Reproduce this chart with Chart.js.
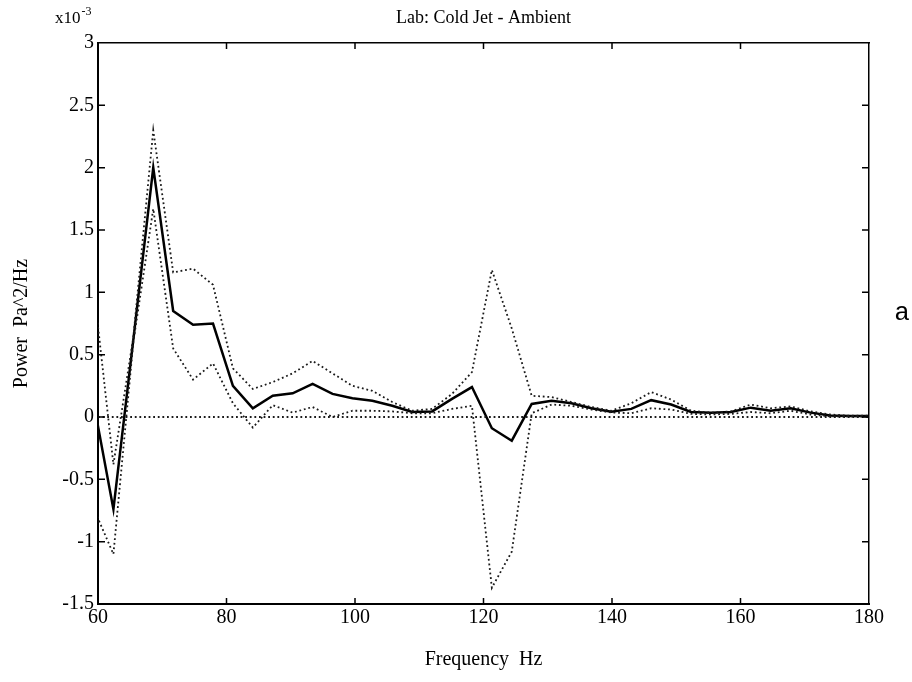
<!DOCTYPE html>
<html><head><meta charset="utf-8">
<script src="https://cdn.jsdelivr.net/npm/chart.js@4.4.0/dist/chart.umd.min.js"></script>
<style>html,body{margin:0;padding:0;background:#fff;}#wrap{width:912px;height:682px;position:relative;}</style>
</head><body><div id="wrap"><canvas id="c" width="912" height="682"></canvas></div>
<script>
// Frequency bins (Hz)
const freqHz = [59.3, 62.4, 65.5, 68.6, 71.7, 74.8, 77.9, 81.0, 84.1, 87.2,
  90.3, 93.4, 96.5, 99.6, 102.7, 105.8, 108.9, 112.0, 115.1, 118.2,
  121.3, 124.4, 127.5, 130.6, 133.7, 136.8, 139.9, 143.0, 146.1, 149.2,
  152.3, 155.4, 158.5, 161.6, 164.7, 167.8, 170.9, 174.0, 177.1, 180.2];
// Power (x10^-3 Pa^2/Hz)
const meanPower = [0.12, -0.74, 0.62, 2.0, 0.85, 0.74, 0.75, 0.25, 0.07, 0.17,
  0.19, 0.265, 0.185, 0.15, 0.13, 0.09, 0.04, 0.045, 0.145, 0.24,
  -0.09, -0.19, 0.105, 0.13, 0.11, 0.07, 0.043, 0.065, 0.135, 0.10,
  0.04, 0.035, 0.04, 0.075, 0.05, 0.07, 0.035, 0.013, 0.008, 0.008];
const upperPower = [1.05, -0.38, 0.64, 2.3, 1.16, 1.19, 1.06, 0.39, 0.225, 0.28,
  0.35, 0.45, 0.35, 0.25, 0.21, 0.12, 0.05, 0.065, 0.185, 0.36,
  1.18, 0.71, 0.17, 0.16, 0.12, 0.08, 0.05, 0.11, 0.20, 0.14,
  0.05, 0.035, 0.045, 0.10, 0.07, 0.085, 0.045, 0.02, 0.01, 0.01];
const lowerPower = [-0.73, -1.10, 0.60, 1.67, 0.55, 0.30, 0.43, 0.11, -0.085, 0.095,
  0.035, 0.08, 0.0, 0.05, 0.05, 0.045, 0.03, 0.03, 0.065, 0.09,
  -1.37, -1.08, 0.03, 0.10, 0.09, 0.06, 0.036, 0.03, 0.07, 0.06,
  0.025, 0.02, 0.025, 0.04, 0.03, 0.05, 0.02, 0.005, 0.005, 0.005];
const zeroFreq = [60, 180];
const zeroPower = [0, 0];
const xTicks = [60, 80, 100, 120, 140, 160, 180];
const yTicks = [-1.5, -1, -0.5, 0, 0.5, 1, 1.5, 2, 2.5, 3];
const titleText = 'Lab: Cold Jet - Ambient';
const xTitle = 'Frequency  Hz';
const yTitle = 'Power  Pa^2/Hz';
const sideLabel = 'a';

const pts = (xs, ys) => xs.map((x, i) => ({x: x, y: ys[i]}));
const SERIF = "'Liberation Serif', 'Times New Roman', serif";
const dotStyle = {borderColor: '#1a1a1a', borderWidth: 1.8, borderDash: [1.8, 2.8], pointRadius: 0, tension: 0, fill: false};

const decor = {
  id: 'decor',
  afterDraw(chart) {
    const ctx = chart.ctx, a = chart.chartArea;
    const xs = chart.scales.x, ys = chart.scales.y;
    ctx.save();
    ctx.strokeStyle = '#000';
    ctx.lineWidth = 1.5;
    ctx.beginPath();
    xTicks.slice(1, -1).forEach(v => {
      const px = xs.getPixelForValue(v);
      ctx.moveTo(px, a.bottom); ctx.lineTo(px, a.bottom - 6);
      ctx.moveTo(px, a.top); ctx.lineTo(px, a.top + 6);
    });
    yTicks.slice(1, -1).forEach(v => {
      const py = ys.getPixelForValue(v);
      ctx.moveTo(a.left, py); ctx.lineTo(a.left + 7, py);
      ctx.moveTo(a.right, py); ctx.lineTo(a.right - 7, py);
    });
    ctx.stroke();
    ctx.fillStyle = '#000';
    ctx.textBaseline = 'alphabetic';
    ctx.textAlign = 'center';
    ctx.font = '18px ' + SERIF;
    ctx.fillText(titleText, (a.left + a.right) / 2, 23);
    ctx.textAlign = 'left';
    ctx.font = '17px ' + SERIF;
    ctx.fillText('x10', 55, 23);
    const w = ctx.measureText('x10').width;
    ctx.font = '12px ' + SERIF;
    ctx.fillText('-3', 55 + w + 1, 15);
    ctx.textAlign = 'center';
    ctx.font = '26px "Liberation Mono", monospace';
    ctx.fillText(sideLabel, 902, 320);
    ctx.restore();
  }
};

new Chart(document.getElementById('c'), {
  type: 'line',
  data: {
    datasets: [
      Object.assign({label: 'zero', data: pts(zeroFreq, zeroPower)}, dotStyle),
      Object.assign({label: 'upper', data: pts(freqHz, upperPower)}, dotStyle),
      Object.assign({label: 'lower', data: pts(freqHz, lowerPower)}, dotStyle),
      {label: 'mean', data: pts(freqHz, meanPower), borderColor: '#000', borderWidth: 2.5, pointRadius: 0, tension: 0, fill: false}
    ]
  },
  options: {
    responsive: false,
    animation: false,
    devicePixelRatio: 1,
    layout: {padding: {top: 43, right: 43, bottom: 0, left: 0}},
    plugins: {legend: {display: false}, tooltip: {enabled: false}, title: {display: false}},
    scales: {
      x: {
        type: 'linear', position: 'bottom', min: 60, max: 180,
        afterBuildTicks: s => { s.ticks = xTicks.map(v => ({value: v})); },
        afterFit: s => { s.height = 78; },
        ticks: {color: '#000', font: {family: SERIF, size: 20}, padding: 2, maxRotation: 0, autoSkip: false, callback: v => String(v)},
        grid: {display: true, drawOnChartArea: false, drawTicks: false},
        border: {display: true, color: '#000', width: 2},
        title: {display: true, text: xTitle, color: '#000', font: {family: SERIF, size: 20}, padding: {top: 0, bottom: 10}}
      },
      x2: {
        type: 'linear', position: 'top', min: 60, max: 180,
        afterFit: s => { s.height = 0; },
        ticks: {display: false},
        grid: {display: true, drawOnChartArea: false, drawTicks: false},
        border: {display: true, color: '#000', width: 1.5}
      },
      y: {
        type: 'linear', position: 'left', min: -1.5, max: 3,
        afterBuildTicks: s => { s.ticks = yTicks.map(v => ({value: v})); },
        afterFit: s => { s.width = 98; },
        ticks: {color: '#000', font: {family: SERIF, size: 20}, padding: 4, autoSkip: false, callback: v => String(v)},
        grid: {display: true, drawOnChartArea: false, drawTicks: false},
        border: {display: true, color: '#000', width: 2},
        title: {display: true, text: yTitle, color: '#000', font: {family: SERIF, size: 20}, padding: {top: 10, bottom: 0}}
      },
      y2: {
        type: 'linear', position: 'right', min: -1.5, max: 3,
        afterFit: s => { s.width = 0; },
        ticks: {display: false},
        grid: {display: true, drawOnChartArea: false, drawTicks: false},
        border: {display: true, color: '#000', width: 1.5}
      }
    }
  },
  plugins: [decor]
});
</script>
</body></html>
